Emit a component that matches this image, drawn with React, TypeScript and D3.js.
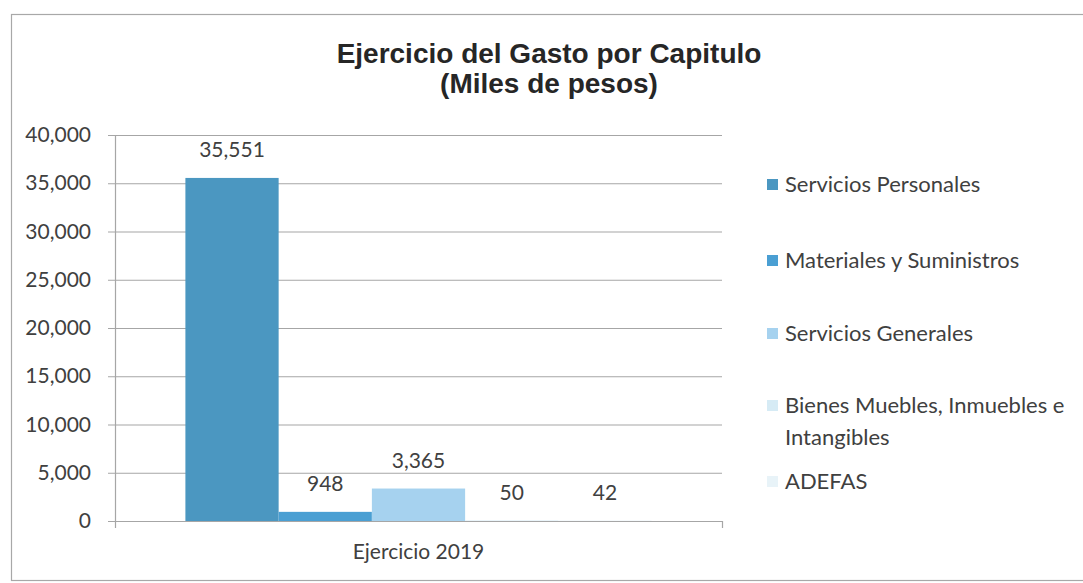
import { useEffect, useRef } from 'react';
import * as d3 from 'd3';

const categories = ['Ejercicio 2019'];
const seriesNames = [
    'Servicios Personales',
    'Materiales y Suministros',
    'Servicios Generales',
    'Bienes Muebles, Inmuebles e Intangibles',
    'ADEFAS',
];
const seriesValues = [35551, 948, 3365, 50, 42];
const seriesColors = ['#4b97c1', '#4a9fd3', '#a6d2ef', '#d6ebf5', '#e8f3f8'];
const yTicks = [0, 5000, 10000, 15000, 20000, 25000, 30000, 35000, 40000];

const W = 1083;
const H = 583;
const fontBody = 'Lato, "Open Sans", sans-serif';

export default function App() {
    const svgRef = useRef<SVGSVGElement>(null);

    useEffect(() => {
        document.body.style.margin = '0';
        if (!svgRef.current) return;
        const svg = d3.select(svgRef.current);
        svg.selectAll('*').remove();

        const plot = { left: 115, right: 722, top: 135, bottom: 521 };

        svg.append('rect')
            .attr('width', W)
            .attr('height', H)
            .attr('fill', '#fff');

        // outer chart border
        svg.append('rect')
            .attr('x', 11.5)
            .attr('y', 14.5)
            .attr('width', W + 10)
            .attr('height', 566)
            .attr('fill', 'none')
            .attr('stroke', '#a8a8a8')
            .attr('stroke-width', 1.2);

        // title
        const title = svg.append('text')
            .attr('text-anchor', 'middle')
            .attr('font-family', '"Liberation Sans", Arial, sans-serif')
            .attr('font-weight', 'bold')
            .attr('font-size', 28)
            .attr('fill', '#262626');
        title.append('tspan').attr('x', 549).attr('y', 63).text('Ejercicio del Gasto por Capitulo');
        title.append('tspan').attr('x', 549).attr('y', 93).text('(Miles de pesos)');

        const y = d3.scaleLinear()
            .domain([0, 40000])
            .range([plot.bottom, plot.top]);

        const x0 = d3.scaleBand<string>()
            .domain(categories)
            .range([plot.left, plot.right])
            .paddingInner(0)
            .paddingOuter(0.151);

        const x1 = d3.scaleBand<string>()
            .domain(seriesNames)
            .range([0, x0.bandwidth()]);

        // gridlines
        svg.append('g')
            .selectAll('line')
            .data(yTicks)
            .join('line')
            .attr('x1', plot.left - 7)
            .attr('x2', plot.right)
            .attr('y1', d => y(d) + 0.5)
            .attr('y2', d => y(d) + 0.5)
            .attr('stroke', '#a6a6a6')
            .attr('stroke-width', 1.2);

        // y axis line
        svg.append('line')
            .attr('x1', plot.left + 0.5)
            .attr('x2', plot.left + 0.5)
            .attr('y1', plot.top)
            .attr('y2', plot.bottom)
            .attr('stroke', '#a6a6a6')
            .attr('stroke-width', 1.2);

        // y tick labels
        svg.append('g')
            .selectAll('text')
            .data(yTicks)
            .join('text')
            .attr('x', 91)
            .attr('y', d => y(d) + 7)
            .attr('text-anchor', 'end')
            .attr('font-family', fontBody)
            .attr('font-size', 21)
            .attr('fill', '#404040')
            .text(d => d3.format(',')(d));

        // bars
        const group = svg.append('g')
            .attr('transform', `translate(${x0(categories[0])},0)`);

        group.selectAll('rect')
            .data(seriesValues)
            .join('rect')
            .attr('x', (_, i) => x1(seriesNames[i])!)
            .attr('y', d => y(d))
            .attr('width', x1.bandwidth())
            .attr('height', d => plot.bottom - y(d))
            .attr('fill', (_, i) => seriesColors[i]);

        group.selectAll('text')
            .data(seriesValues)
            .join('text')
            .attr('x', (_, i) => x1(seriesNames[i])! + x1.bandwidth() / 2)
            .attr('y', d => y(d) - 21)
            .attr('text-anchor', 'middle')
            .attr('font-family', fontBody)
            .attr('font-size', 21)
            .attr('fill', '#404040')
            .text(d => d3.format(',')(d));

        // x axis
        svg.append('line')
            .attr('x1', plot.left - 7)
            .attr('x2', plot.right)
            .attr('y1', plot.bottom + 0.5)
            .attr('y2', plot.bottom + 0.5)
            .attr('stroke', '#a6a6a6')
            .attr('stroke-width', 1.2);
        [plot.left, plot.right].forEach(px => {
            svg.append('line')
                .attr('x1', px + 0.5)
                .attr('x2', px + 0.5)
                .attr('y1', plot.bottom)
                .attr('y2', plot.bottom + 7)
                .attr('stroke', '#a6a6a6')
                .attr('stroke-width', 1.2);
        });

        svg.append('text')
            .attr('x', x0(categories[0])! + x0.bandwidth() / 2)
            .attr('y', 559)
            .attr('text-anchor', 'middle')
            .attr('font-family', fontBody)
            .attr('font-size', 21)
            .attr('fill', '#404040')
            .text(categories[0]);

        // legend
        const legendRows = [
            { lines: ['Servicios Personales'], y: 184 },
            { lines: ['Materiales y Suministros'], y: 260 },
            { lines: ['Servicios Generales'], y: 333 },
            { lines: ['Bienes Muebles, Inmuebles e', 'Intangibles'], y: 405 },
            { lines: ['ADEFAS'], y: 481 },
        ];
        const legend = svg.append('g');
        legendRows.forEach((row, i) => {
            legend.append('rect')
                .attr('x', 767)
                .attr('y', row.y - 5)
                .attr('width', 11)
                .attr('height', 11)
                .attr('fill', seriesColors[i]);
            const t = legend.append('text')
                .attr('font-family', fontBody)
                .attr('font-size', 22)
                .attr('fill', '#404040');
            row.lines.forEach((ln, j) => {
                t.append('tspan')
                    .attr('x', 785)
                    .attr('y', row.y + 8 + j * 32)
                    .text(ln);
            });
        });
    }, []);

    return <svg ref={svgRef} width={W} height={H} style={{ display: 'block' }} />;
}
